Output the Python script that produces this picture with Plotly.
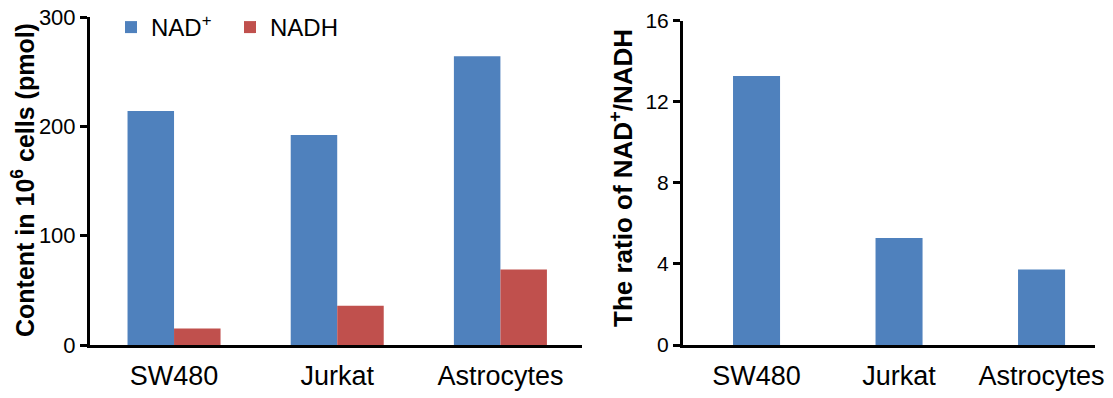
import plotly.graph_objects as go

categories = ["SW480", "Jurkat", "Astrocytes"]
nad_plus = [214, 192, 264]
nadh = [15, 36, 69]
ratio = [13.27, 5.28, 3.73]

left_ticks = [0, 100, 200, 300]
right_ticks = [0, 4, 8, 12, 16]

BLUE = "#4F81BD"
RED = "#C0504D"
FONT = "Liberation Sans, Arial, sans-serif"

W, H = 1113, 398
OFF = 8  # page body margin

fig = go.Figure()
fig.add_trace(go.Bar(x=categories, y=nad_plus, name="NAD<sup>+</sup>",
                     marker=dict(color=BLUE, line=dict(width=0)),
                     xaxis="x", yaxis="y"))
fig.add_trace(go.Bar(x=categories, y=nadh, name="NADH",
                     marker=dict(color=RED, line=dict(width=0)),
                     xaxis="x", yaxis="y"))
fig.add_trace(go.Bar(x=categories, y=ratio, name="ratio", showlegend=False,
                     marker=dict(color=BLUE, line=dict(width=0)),
                     width=0.33, xaxis="x2", yaxis="y2"))

def px_x(p):
    return (p - OFF) / W

def px_y(p):
    return (H - (p - OFF)) / H

axis_common = dict(showgrid=False, zeroline=False, showline=True,
                   linecolor="black", linewidth=3, automargin=False,
                   ticklabeloverflow="allow")

fig.update_layout(
    width=W, height=H,
    margin=dict(l=0, r=0, t=0, b=0, autoexpand=False),
    paper_bgcolor="white", plot_bgcolor="white",
    font=dict(family=FONT, color="black"),
    barmode="group", bargap=0.43, bargroupgap=0,
    showlegend=True,
    legend=dict(orientation="h", x=px_x(111), y=px_y(27.5), xanchor="left",
                yanchor="middle", font=dict(size=24, family=FONT),
                entrywidth=74,
                bgcolor="rgba(0,0,0,0)", itemclick=False),
    xaxis=dict(domain=[px_x(90), px_x(582)], anchor="y", type="category",
               range=[-0.515, 2.5], ticks="", ticklabelstandoff=5,
               tickfont=dict(size=27), **axis_common),
    yaxis=dict(domain=[px_y(345), px_y(17)], anchor="x", range=[0, 300],
               tickvals=left_ticks, ticks="outside", ticklen=7, tickwidth=3,
               tickcolor="black", tickfont=dict(size=22), **axis_common),
    xaxis2=dict(domain=[px_x(683), px_x(1095)], anchor="y2", type="category",
                range=[-0.516, 2.375], ticks="", ticklabelstandoff=5,
                tickfont=dict(size=27), **axis_common),
    yaxis2=dict(domain=[px_y(345), px_y(20.7)], anchor="x2", range=[0, 16],
                tickvals=right_ticks, ticks="outside", ticklen=7, tickwidth=3,
                tickcolor="black", tickfont=dict(size=21), **axis_common),
    annotations=[
        dict(text="<b>Content in 10<sup>6</sup> cells (pmol)</b>",
             xref="paper", yref="paper", x=px_x(23), y=px_y(180),
             xanchor="center", yanchor="middle", textangle=-90,
             showarrow=False, font=dict(size=25, family=FONT)),
        dict(text="<b>The ratio of NAD<sup>+</sup>/NADH</b>",
             xref="paper", yref="paper", x=px_x(622), y=px_y(178),
             xanchor="center", yanchor="middle", textangle=-90,
             showarrow=False, font=dict(size=26, family=FONT)),
    ],
)

fig.write_html("out.html")
